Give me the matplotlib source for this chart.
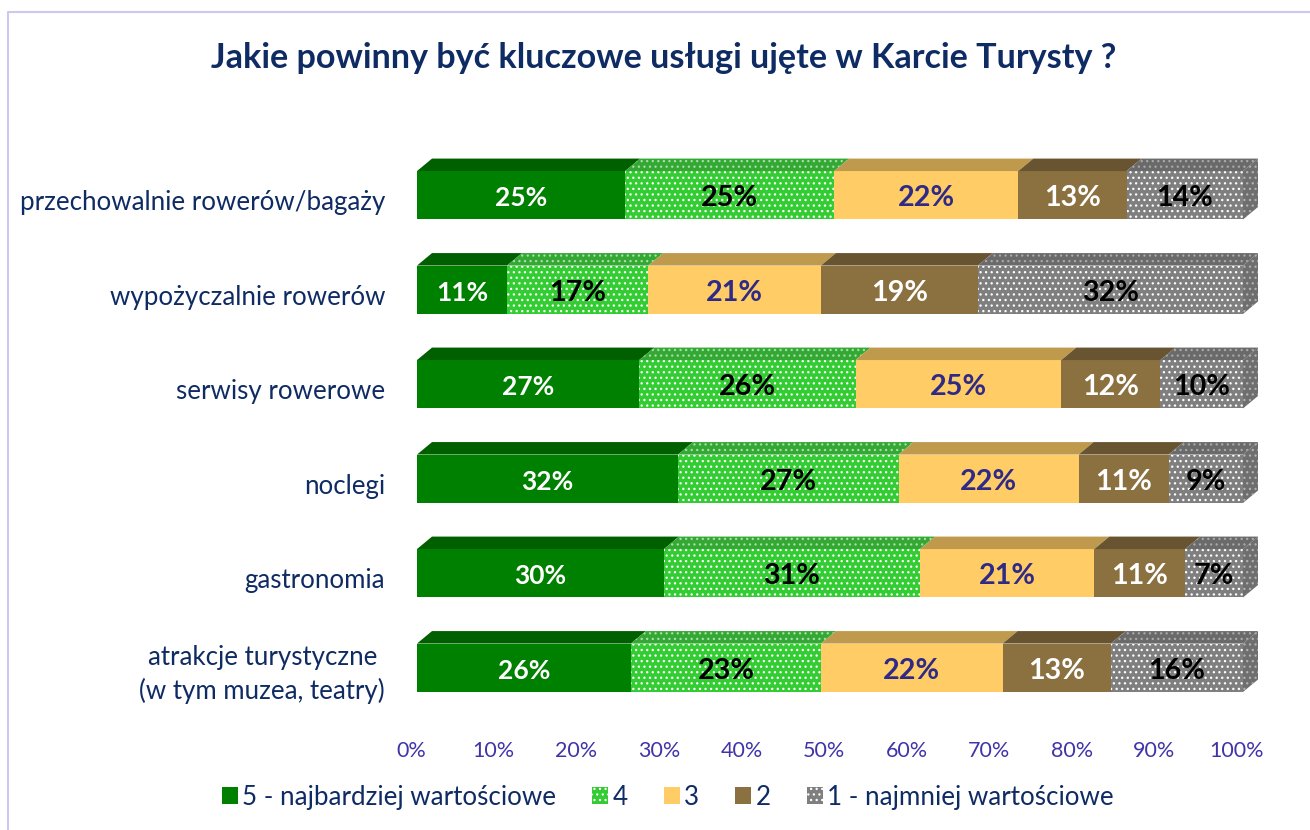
import numpy as np
import matplotlib
matplotlib.use("Agg")
import matplotlib.pyplot as plt
from matplotlib.patches import Polygon, Patch
from matplotlib.lines import Line2D
from matplotlib.transforms import ScaledTranslation

plt.rcParams['font.family'] = ['Lato', 'DejaVu Sans']
plt.rcParams['hatch.linewidth'] = 0.9

title = "Jakie powinny być kluczowe usługi ujęte w Karcie Turysty ?"
categories = ["przechowalnie rowerów/bagaży", "wypożyczalnie rowerów", "serwisy rowerowe",
              "noclegi", "gastronomia", "atrakcje turystyczne\n(w tym muzea, teatry)"]
series_names = ["5 - najbardziej wartościowe", "4", "3", "2", "1 - najmniej wartościowe"]
s5 = [25.2, 10.9, 26.9, 31.6, 29.9, 25.9]
s4 = [25.3, 17.1, 26.2, 26.7, 31.0, 23.0]
s3 = [22.3, 20.9, 24.9, 21.8, 21.1, 22.0]
s2 = [13.1, 19.0, 12.0, 10.9, 11.0, 13.1]
s1 = [14.1, 32.1, 10.0, 9.0, 7.0, 16.0]
xticks = list(range(0, 101, 10))

face = ['#008000', '#33CC33', '#FFCC66', '#8B7040', '#7F7F7F']
top = ['#006000', '#33A833', '#BF9A4D', '#685430', '#6A6A6A']
top_h = [None, '#A8DDA8', None, None, '#A8A8A8']
hatches = [None, '...', None, None, '...']
text_c = ['white', 'black', '#2E2A86', 'white', 'black']
text_s = [19, 20.7, 20.7, 20.7, 20.7]
NAVY = '#0F2B63'

W, H = 1310, 830
fig = plt.figure(figsize=(W/100, H/100), dpi=100, facecolor='white')
ax = fig.add_axes([417/W, 1-715/H, 826/W, 567/H])
ax.set_xlim(0, 100)
ax.set_ylim(5.5, -0.5)
for sp in ax.spines.values():
    sp.set_visible(False)

bar_h = 48.5/94.7
dx = 15/8.26
dy = 12.5/94.7
y = np.arange(len(categories))
left = np.zeros(len(categories))
data = [s5, s4, s3, s2, s1]
for k, vals in enumerate(data):
    vals = np.array(vals)
    ec = 'white' if hatches[k] else face[k]
    ax.barh(y, vals, left=left, height=bar_h, color=face[k], edgecolor=ec, hatch=hatches[k], linewidth=0, zorder=2)
    for i in range(len(y)):
        t = y[i]-bar_h/2
        pts = [(left[i], t), (left[i]+vals[i], t), (left[i]+vals[i]+dx, t-dy), (left[i]+dx, t-dy)]
        ax.add_patch(Polygon(pts, closed=True, facecolor=top[k], edgecolor=top_h[k] or top[k],
                             hatch=hatches[k], linewidth=0, clip_on=False, zorder=2))
        if k == len(data)-1:
            r = left[i]+vals[i]
            b = y[i]+bar_h/2
            pts = [(r, t), (r+dx, t-dy), (r+dx, b-dy), (r, b)]
            ax.add_patch(Polygon(pts, closed=True, facecolor='#6E6E6E', edgecolor='#B0B0B0',
                                 hatch='...', linewidth=0, clip_on=False, zorder=2))
        ax.text(left[i]+vals[i]/2, y[i]+0.03, f"{vals[i]:.0f}%", ha='center', va='center',
                color=text_c[k], fontsize=text_s[k], fontweight='bold', zorder=5)
    left = left+vals

ax.set_yticks(y)
ax.set_yticklabels(categories, fontsize=18.6, color=NAVY, ma='center', linespacing=1.4)
ax.set_xticks(xticks)
ax.set_xticklabels([f"{v}%" for v in xticks], fontsize=15.5, color='#3F35A8')
ax.tick_params(axis='both', length=0)
ax.tick_params(axis='y', pad=23)
ax.tick_params(axis='x', pad=19)
sx = ScaledTranslation(-6/100, 0, fig.dpi_scale_trans)
sy = ScaledTranslation(0, -5/100, fig.dpi_scale_trans)
sy2 = ScaledTranslation(0, 0, fig.dpi_scale_trans)
for l in ax.get_xticklabels():
    l.set_transform(l.get_transform()+sx)
ylabels = ax.get_yticklabels()
for l in ylabels[:-1]:
    l.set_transform(l.get_transform()+sy)
ylabels[-1].set_transform(ylabels[-1].get_transform()+sy2)

fig.text(664/W, 1-58/H, title, ha='center', va='center', fontsize=24.6, fontweight='bold', color=NAVY)

handles = [Patch(facecolor=face[k], edgecolor='white' if hatches[k] else face[k], hatch=hatches[k], linewidth=0)
           for k in range(5)]
fig.legend(handles, series_names, loc='center', bbox_to_anchor=(668/W, 1-797/H), ncol=5, frameon=False,
           fontsize=18.7, labelcolor=NAVY, handlelength=0.616, handleheight=0.616, handletextpad=0.17,
           columnspacing=1.385, borderpad=0)

fig.add_artist(Line2D([7.5/W, 7.5/W, 1309/W], [0, 1-12/H, 1-12/H], color='#CFC8EE', lw=1.5))

fig.savefig('out.png', dpi=100)
